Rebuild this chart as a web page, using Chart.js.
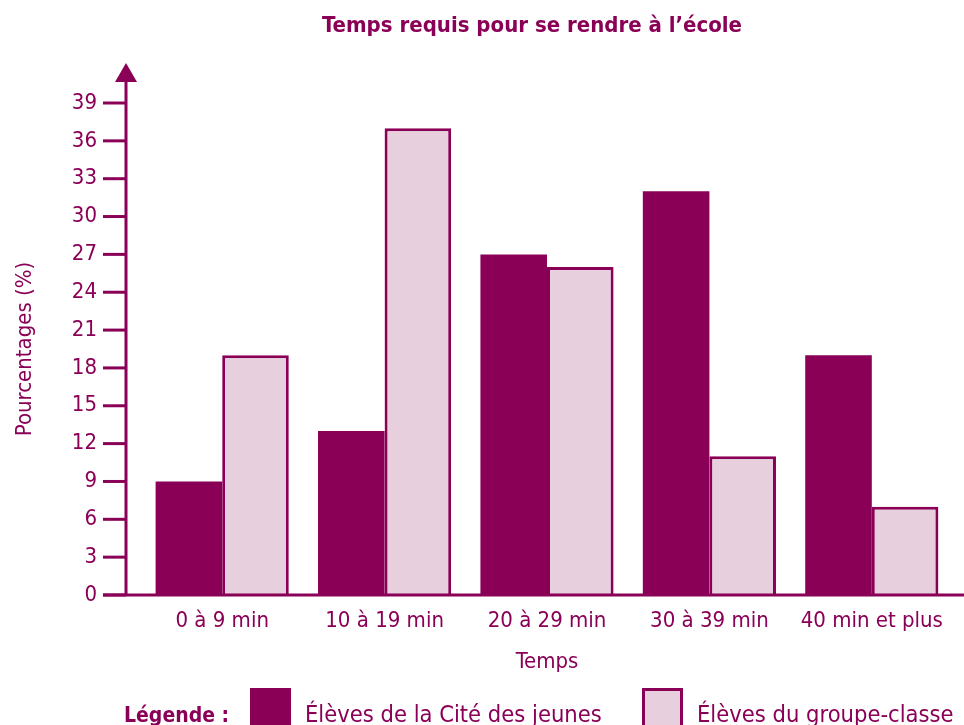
<!DOCTYPE html>
<html>
<head>
<meta charset="utf-8">
<script src="https://cdn.jsdelivr.net/npm/chart.js@4/dist/chart.umd.min.js"></script>
<style>
  html, body { margin: 0; padding: 0; background: #fff; }
  #wrap { width: 964px; height: 725px; }
</style>
</head>
<body>
<div id="wrap"><canvas id="chart-temps"></canvas></div>
<script>
const categories = ["0 à 9 min", "10 à 19 min", "20 à 29 min", "30 à 39 min", "40 min et plus"];
const citeJeunes = [9, 13, 27, 32, 19];
const groupeClasse = [19, 37, 26, 11, 7];
const yTicks = [0, 3, 6, 9, 12, 15, 18, 21, 24, 27, 30, 33, 36, 39];

const purple = "#8a0057";
const pink = "#e7cfdd";
const narrow = '"Liberation Sans Narrow", "DejaVu Sans Condensed", sans-serif';

// axe vertical avec flèche, traits de graduation, ligne de base, titre et légende
const decorations = {
  id: "decorations",
  afterDraw(chart) {
    const ctx = chart.ctx;
    const area = chart.chartArea;
    const y = chart.scales.y;
    const axisX = area.left - 15;
    const y0 = y.getPixelForValue(0);

    ctx.save();
    ctx.strokeStyle = purple;
    ctx.fillStyle = purple;
    ctx.lineWidth = 3;

    // ligne de base
    ctx.beginPath();
    ctx.moveTo(axisX - 23, y0);
    ctx.lineTo(chart.width, y0);
    ctx.stroke();

    // axe vertical
    ctx.beginPath();
    ctx.moveTo(axisX, y0);
    ctx.lineTo(axisX, 78);
    ctx.stroke();

    // flèche
    ctx.beginPath();
    ctx.moveTo(axisX, 63);
    ctx.lineTo(axisX + 11, 82);
    ctx.lineTo(axisX - 11, 82);
    ctx.closePath();
    ctx.fill();

    // graduations
    yTicks.forEach((v) => {
      const py = y.getPixelForValue(v);
      ctx.beginPath();
      ctx.moveTo(axisX - 23, py);
      ctx.lineTo(axisX, py);
      ctx.stroke();
    });

    // titre
    ctx.font = "bold 22px " + narrow;
    ctx.textAlign = "center";
    ctx.textBaseline = "middle";
    ctx.fillText("Temps requis pour se rendre à l’école", 532, 26);

    // légende
    ctx.textAlign = "left";
    ctx.textBaseline = "alphabetic";
    ctx.font = "bold 21px " + narrow;
    ctx.fillText("Légende :", 124, 722);

    const ds = chart.data.datasets;
    const boxes = [250, 642];
    ds.forEach((d, i) => {
      const bx = boxes[i];
      ctx.fillStyle = d.backgroundColor;
      ctx.fillRect(bx, 688, 41, 40);
      if (d.borderWidth) {
        ctx.lineWidth = 3;
        ctx.strokeStyle = purple;
        ctx.strokeRect(bx + 1.5, 689.5, 38, 40);
      }
      ctx.fillStyle = purple;
      ctx.font = "23.5px " + narrow;
      ctx.fillText(d.label, bx + 55, 722);
    });
    ctx.restore();
  },
};

new Chart(document.getElementById("chart-temps"), {
  type: "bar",
  data: {
    labels: categories,
    datasets: [
      {
        label: "Élèves de la Cité des jeunes",
        data: citeJeunes,
        backgroundColor: purple,
        borderWidth: 0,
      },
      {
        label: "Élèves du groupe-classe",
        data: groupeClasse,
        backgroundColor: pink,
        borderColor: purple,
        borderWidth: 3,
        borderSkipped: "bottom",
      },
    ],
  },
  options: {
    responsive: true,
    maintainAspectRatio: false,
    animation: false,
    datasets: {
      bar: { categoryPercentage: 0.82, barPercentage: 1 },
    },
    layout: { padding: { top: 103, right: 11, bottom: 50, left: 0 } },
    plugins: {
      legend: { display: false },
      title: { display: false },
      tooltip: { enabled: false },
    },
    scales: {
      x: {
        grid: { display: false, drawTicks: false },
        border: { display: false },
        ticks: { color: purple, font: { family: narrow, size: 22 }, padding: 13 },
        title: {
          display: true,
          text: "Temps",
          color: purple,
          font: { family: narrow, size: 22 },
          padding: { top: 0, bottom: 0 },
        },
        afterFit: (s) => { s.height = 80; },
      },
      y: {
        min: 0,
        max: 39,
        grid: { display: false, drawTicks: false },
        border: { display: false },
        ticks: {
          stepSize: 3,
          color: purple,
          padding: 44,
          font: { family: narrow, size: 22 },
        },
        title: {
          display: true,
          text: "Pourcentages (%)",
          color: purple,
          font: { family: narrow, size: 22 },
          padding: { top: 12, bottom: 0 },
        },
        afterFit: (s) => { s.width = 141; },
      },
    },
  },
  plugins: [decorations],
});
</script>
</body>
</html>
